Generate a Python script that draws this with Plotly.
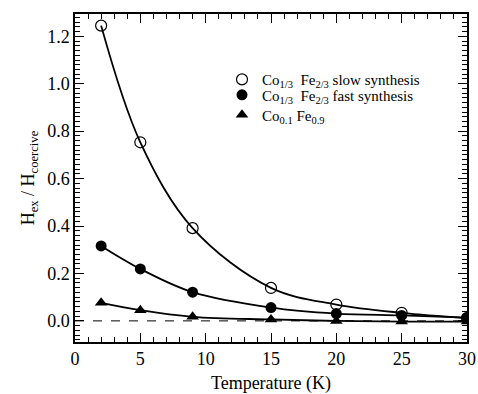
import plotly.graph_objects as go

temps = [2, 5, 9, 15, 20, 25, 30]
slow = [1.245, 0.753, 0.391, 0.139, 0.069, 0.034, 0.012]
fast = [0.316, 0.219, 0.121, 0.056, 0.031, 0.023, 0.014]
co01 = [0.076, 0.045, 0.017, 0.006, 0.0, -0.003, -0.003]

names = [
    "Co<sub>1/3</sub>  Fe<sub>2/3</sub> slow synthesis",
    "Co<sub>1/3</sub>  Fe<sub>2/3</sub> fast synthesis",
    "Co<sub>0.1</sub> Fe<sub>0.9</sub>",
]

FONT = "'Liberation Serif', 'Times New Roman', 'DejaVu Serif', serif"
fig = go.Figure()

series = [
    (slow, names[0], "legend", dict(symbol="circle-open", size=11, color="black", line=dict(width=1.2, color="black"))),
    (fast, names[1], "legend2", dict(symbol="circle", size=11, color="black")),
    (co01, names[2], "legend3", dict(symbol="triangle-up", size=11, color="black")),
]
for vals, nm, lg, mk in series:
    fig.add_trace(go.Scatter(x=temps, y=vals, mode="lines", line=dict(color="black", width=1.8, shape="spline", smoothing=1.0),
                             showlegend=False, hoverinfo="skip"))
    fig.add_trace(go.Scatter(x=temps, y=vals, mode="markers", name=nm, marker=mk, legend=lg))

fig.add_hline(y=0, line=dict(color="black", width=1, dash="dash"))

axis_common = dict(
    showline=True, linecolor="black", linewidth=1.5, mirror="allticks",
    ticks="inside", tickcolor="black", tickwidth=1.2, ticklen=9,
    showgrid=False, zeroline=False, automargin=False,
    tickfont=dict(family=FONT, size=18, color="black"),
)

fig.update_xaxes(range=[0, 30], tick0=0, dtick=5,
                 minor=dict(dtick=1, ticks="inside", ticklen=5, tickcolor="black", showgrid=False),
                 title=dict(text="Temperature (K)", font=dict(family=FONT, size=18, color="black"), standoff=10),
                 **axis_common)
fig.update_yaxes(range=[-0.089, 1.294], tick0=0, dtick=0.2, tickformat=".1f",
                 minor=dict(dtick=0.02, ticks="inside", ticklen=5, tickcolor="black", showgrid=False),
                 title=dict(text="H<sub>ex</sub> / H<sub>coercive</sub>", font=dict(family=FONT, size=18, color="black"), standoff=8),
                 **axis_common)

leg_common = dict(x=0.375, xanchor="left", yanchor="middle", bgcolor="rgba(0,0,0,0)",
                  font=dict(family=FONT, size=15, color="black"), itemwidth=30, borderwidth=0)
fig.update_layout(
    width=478, height=394,
    margin=dict(l=75, r=11, t=14, b=52),
    paper_bgcolor="white", plot_bgcolor="white",
    font=dict(family=FONT, color="black"),
    legend=dict(y=0.800, **leg_common),
    legend2=dict(y=0.753, **leg_common),
    legend3=dict(y=0.692, **leg_common),
)

fig.write_html("out.html")
